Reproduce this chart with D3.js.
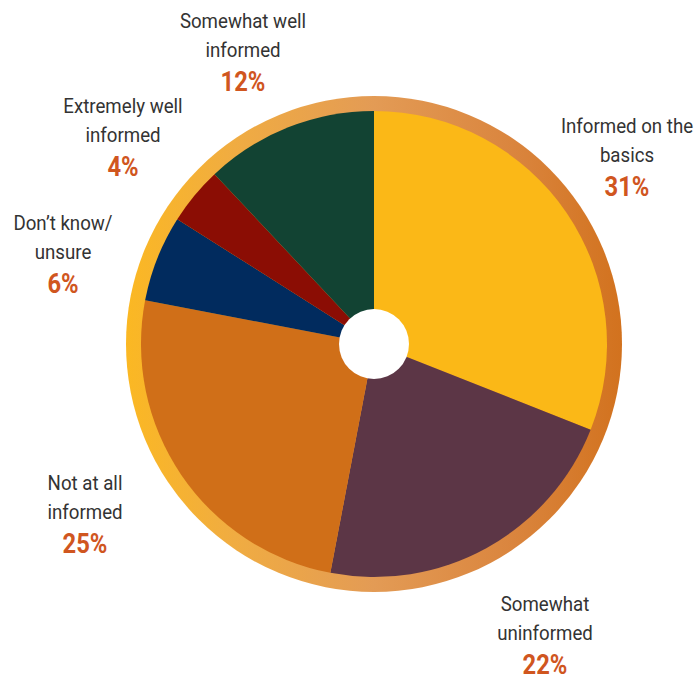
<!DOCTYPE html>
<html>
<head>
<meta charset="utf-8">
<script src="https://cdn.jsdelivr.net/npm/d3@7"></script>
<style>
  html, body { margin: 0; padding: 0; background: #fff; }
  svg { display: block; }
  .lbl { font-family: Roboto, "Noto Sans", sans-serif; font-size: 21px; fill: #333333; }
  .pct { font-family: Roboto, "Noto Sans", sans-serif; font-size: 28px; font-weight: bold; fill: #D0561F; }
</style>
</head>
<body>
<svg id="chart" width="694" height="681"></svg>
<script>
// Survey answers, clockwise from 12 o'clock
const categories = [
  "Informed on the basics",
  "Somewhat uninformed",
  "Not at all informed",
  "Don\u2019t know/ unsure",
  "Extremely well informed",
  "Somewhat well informed"
];
const values = [31, 22, 25, 6, 4, 12];
const sliceColors = ["#FBB817", "#5C3646", "#D06F18", "#012B5E", "#8B0D04", "#124333"];

// Label text split into lines, with anchor points for each label block
const labelLines = [
  ["Informed on the", "basics"],
  ["Somewhat", "uninformed"],
  ["Not at all", "informed"],
  ["Don\u2019t know/", "unsure"],
  ["Extremely well", "informed"],
  ["Somewhat well", "informed"]
];
const labelAnchors = [
  [627, 133], [545, 611], [85, 490], [63, 230], [123, 113], [243, 28]
];

const svg = d3.select("#chart");
const cx = 374, cy = 344;
const rPie = 233, rRing = 248, rHole = 35;

// Horizontal gradient for the outer rim (in the pie group's coordinates)
const defs = svg.append("defs");
const grad = defs.append("linearGradient")
  .attr("id", "rim")
  .attr("gradientUnits", "userSpaceOnUse")
  .attr("x1", -rRing).attr("y1", 0)
  .attr("x2", rRing).attr("y2", 0);
grad.append("stop").attr("offset", "0%").attr("stop-color", "#FBB823");
grad.append("stop").attr("offset", "22%").attr("stop-color", "#F0AC42");
grad.append("stop").attr("offset", "50%").attr("stop-color", "#E39B55");
grad.append("stop").attr("offset", "78%").attr("stop-color", "#DA853E");
grad.append("stop").attr("offset", "100%").attr("stop-color", "#D2721E");

const g = svg.append("g").attr("transform", `translate(${cx},${cy})`);

g.append("circle").attr("r", rRing).attr("fill", "url(#rim)");

const pie = d3.pie().sort(null).value(d => d);
const arc = d3.arc().innerRadius(0).outerRadius(rPie);

g.selectAll("path.slice")
  .data(pie(values))
  .join("path")
  .attr("class", "slice")
  .attr("d", arc)
  .attr("fill", (d, i) => sliceColors[i]);

g.append("circle").attr("r", rHole).attr("fill", "#fff");

// Labels: condensed horizontally to get a narrow typeface look
const lineGap = 29;
const labels = svg.selectAll("g.label")
  .data(categories)
  .join("g")
  .attr("class", "label")
  .attr("transform", (d, i) => `translate(${labelAnchors[i][0]},${labelAnchors[i][1]})`);

labels.each(function(d, i) {
  const sel = d3.select(this);
  labelLines[i].forEach((line, k) => {
    sel.append("text")
      .attr("class", "lbl")
      .attr("text-anchor", "middle")
      .attr("transform", `translate(0,${k * lineGap}) scale(0.89,1)`)
      .text(line);
  });
  sel.append("text")
    .attr("class", "pct")
    .attr("text-anchor", "middle")
    .attr("transform", `translate(0,${(labelLines[i].length - 1) * lineGap + 34}) scale(0.85,1)`)
    .text(values[i] + "%");
});
</script>
</body>
</html>
